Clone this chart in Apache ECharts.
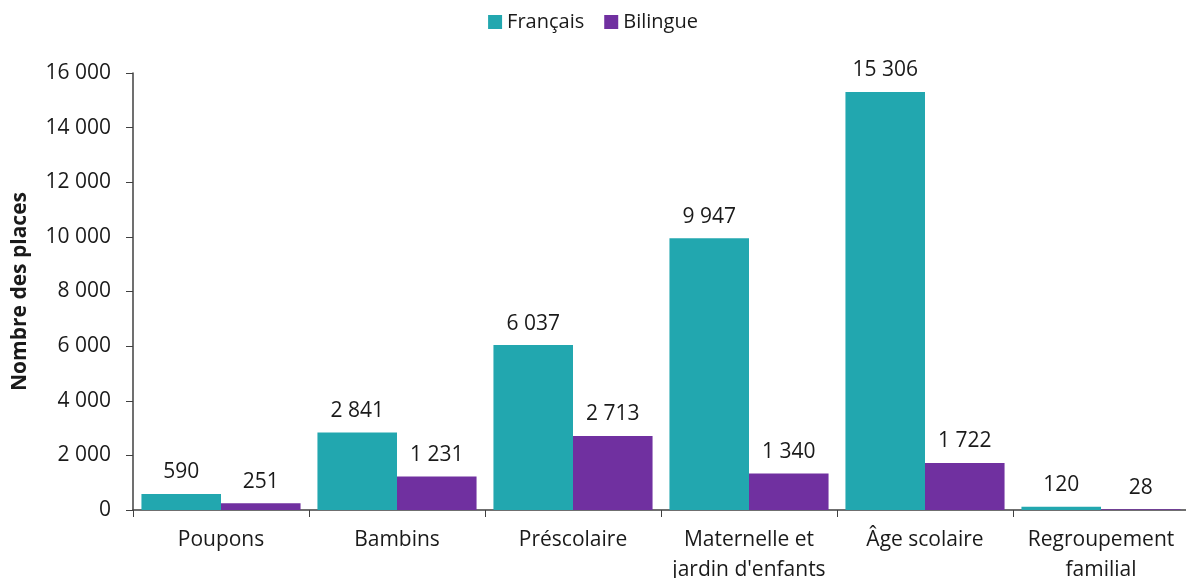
<!DOCTYPE html>
<html>
<head>
<meta charset="utf-8">
<script src="https://cdn.jsdelivr.net/npm/echarts@6/dist/echarts.min.js"></script>
<style>
  html, body { margin: 0; padding: 0; background: #fff; }
  #chart { width: 1186px; height: 578px; }
</style>
</head>
<body>
<div id="chart"></div>
<script>
// données du graphique
const categories = ['Poupons', 'Bambins', 'Préscolaire', 'Maternelle et\njardin d\'enfants', 'Âge scolaire', 'Regroupement\nfamilial'];
const francais = [590, 2841, 6037, 9947, 15306, 120];
const bilingue = [251, 1231, 2713, 1340, 1722, 28];
const yTicks = { min: 0, max: 16000, interval: 2000 };

const fontFamily = '"Open Sans", "Noto Sans", sans-serif';
const fs = 21;

// format 15 306
function fmt(v) {
  return String(v).replace(/\B(?=(\d{3})+(?!\d))/g, ' ');
}

const chart = echarts.init(document.getElementById('chart'));

const labelStyle = {
  show: true,
  position: 'top',
  distance: 11,
  color: '#1a1a1a',
  fontSize: fs,
  fontFamily: fontFamily,
  formatter: p => fmt(p.value)
};

chart.setOption({
  animation: false,
  legend: {
    top: 7,
    left: 'center',
    itemWidth: 14,
    itemHeight: 14,
    itemGap: 20,
    icon: 'rect',
    textStyle: { fontSize: 20, color: '#1a1a1a', fontFamily: fontFamily }
  },
  grid: {
    left: 133,
    top: 73,
    bottom: 68,
    width: 1056,
    containLabel: false,
    outerBoundsMode: 'none'
  },
  xAxis: {
    type: 'category',
    data: categories,
    axisLine: { lineStyle: { color: '#404040', width: 1.5 } },
    axisTick: { show: true, length: 7, lineStyle: { color: '#404040' } },
    axisLabel: {
      color: '#1a1a1a',
      fontSize: fs,
      fontFamily: fontFamily,
      margin: 15,
      lineHeight: 30,
      interval: 0
    }
  },
  yAxis: {
    type: 'value',
    min: yTicks.min,
    max: yTicks.max,
    interval: yTicks.interval,
    name: 'Nombre des places',
    nameLocation: 'middle',
    nameGap: 102,
    nameTextStyle: { fontSize: fs, fontWeight: 'bold', color: '#1a1a1a', fontFamily: fontFamily },
    splitLine: { show: false },
    axisLine: { show: true, lineStyle: { color: '#404040', width: 1.5 } },
    axisTick: { show: true, length: 7, lineStyle: { color: '#404040' } },
    axisLabel: {
      color: '#1a1a1a',
      fontSize: fs,
      fontFamily: fontFamily,
      margin: 22,
      formatter: v => fmt(v)
    }
  },
  series: [
    {
      name: 'Français',
      type: 'bar',
      data: francais,
      barGap: '0%',
      barCategoryGap: '9.6%',
      itemStyle: { color: '#22A7AF' },
      label: labelStyle
    },
    {
      name: 'Bilingue',
      type: 'bar',
      data: bilingue,
      itemStyle: { color: '#7030A0' },
      label: labelStyle
    }
  ]
});
</script>
</body>
</html>
